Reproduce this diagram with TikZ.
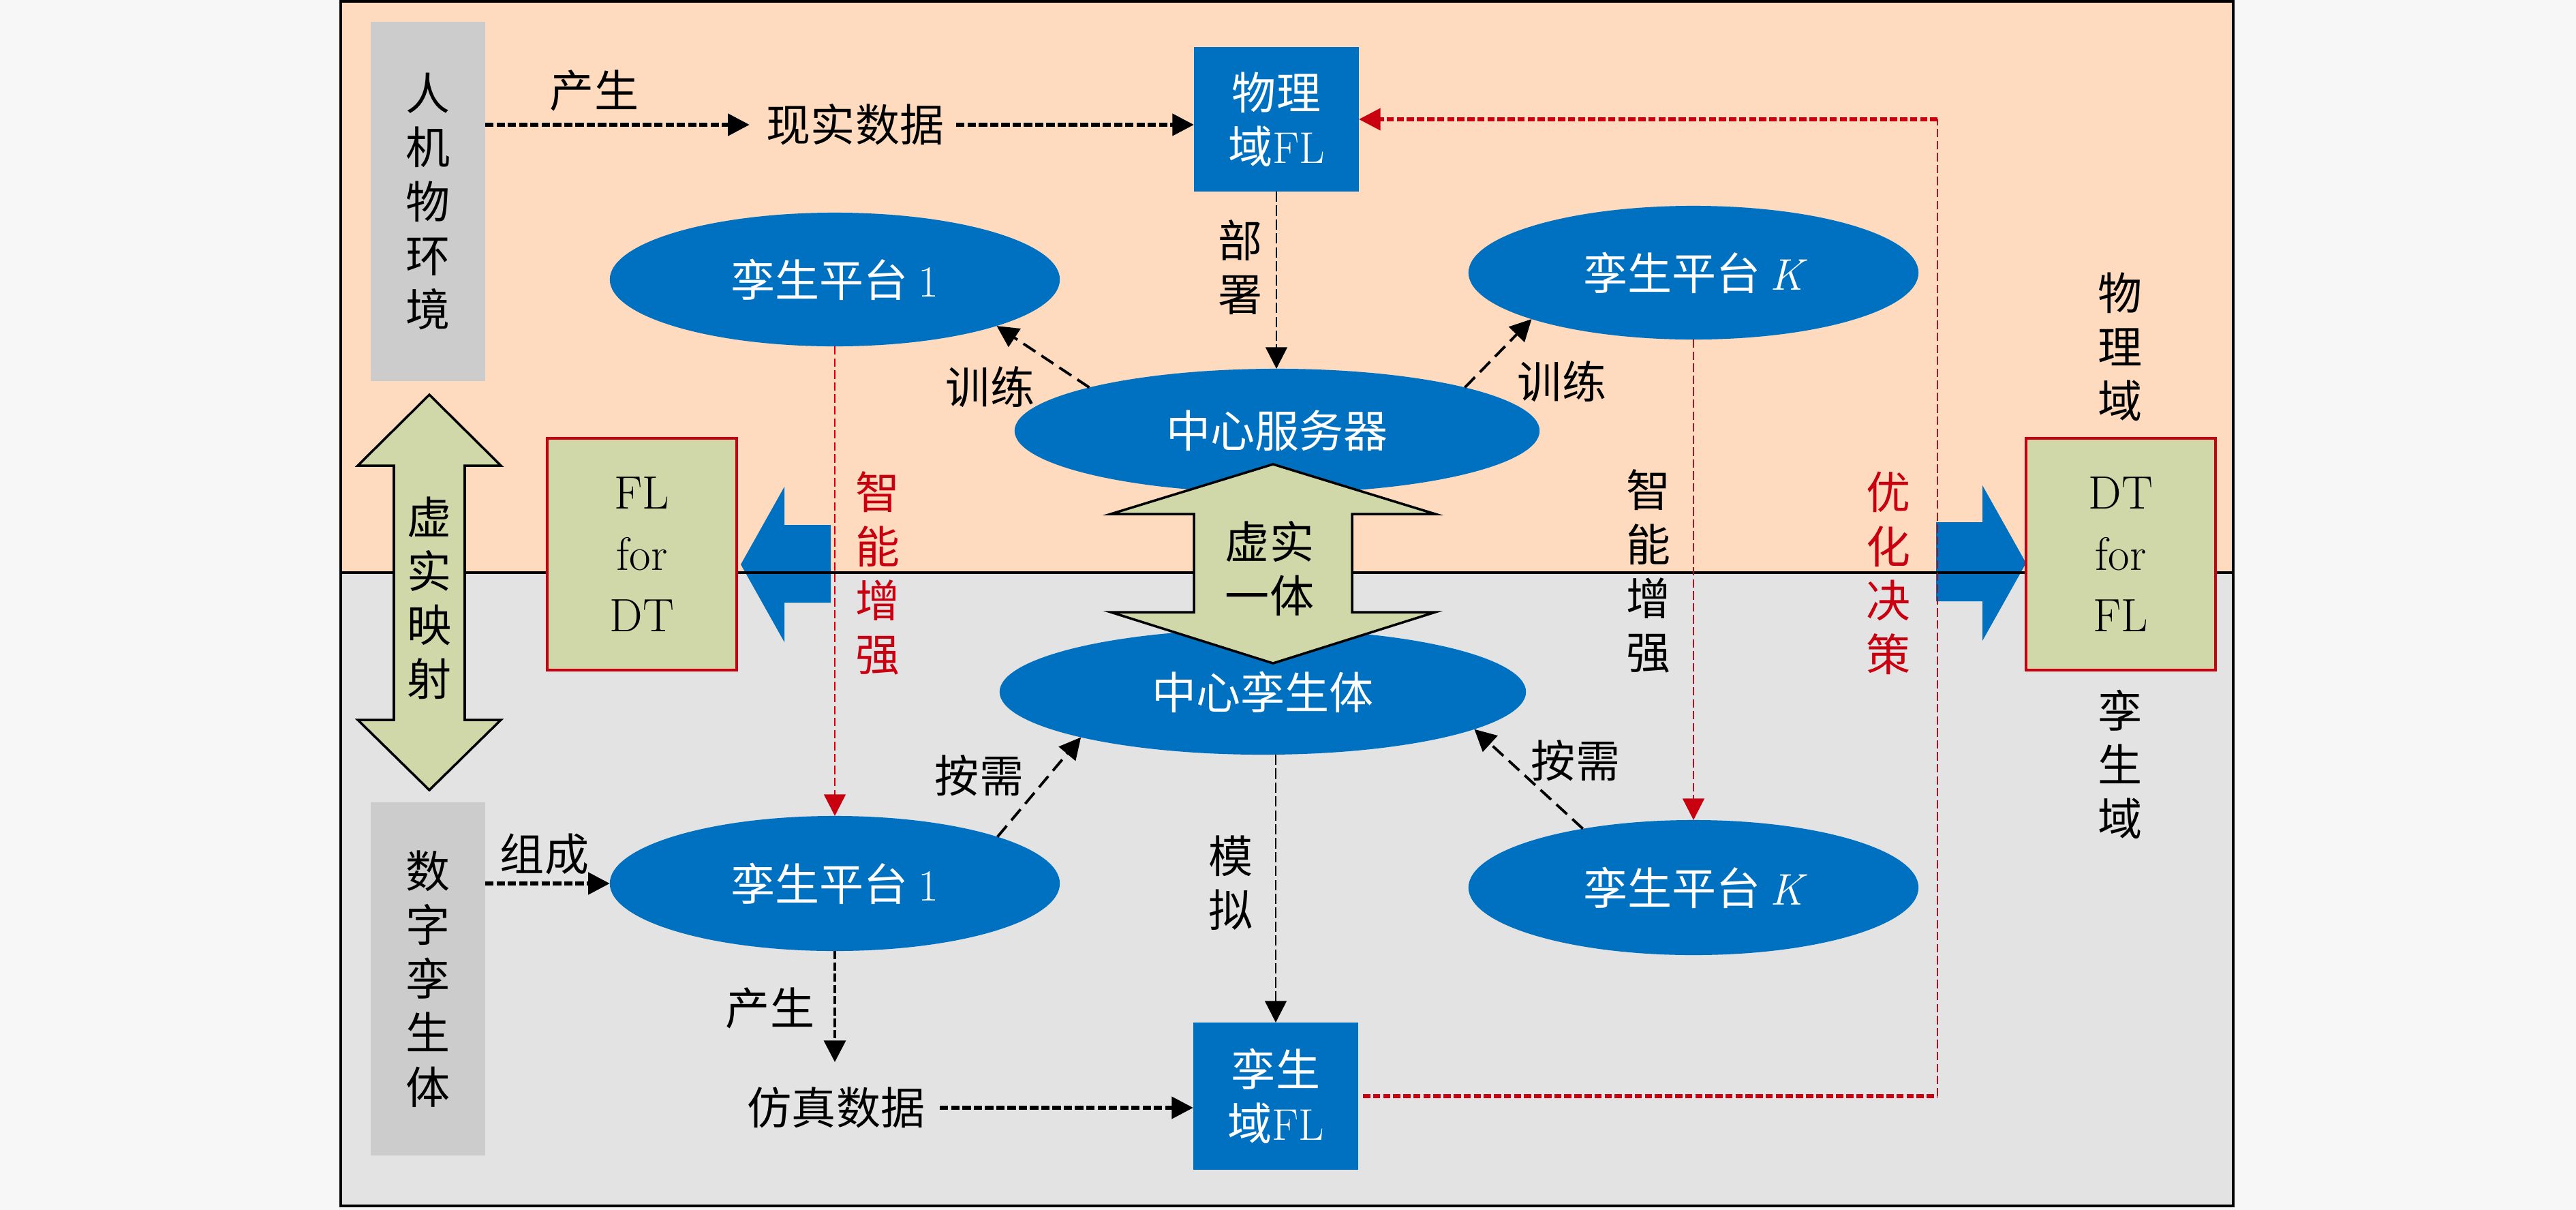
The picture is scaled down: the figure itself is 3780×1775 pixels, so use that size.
\documentclass[tikz,border=0pt]{standalone}
\usepackage{fontspec}
\newfontfamily\cjk{Noto Sans CJK SC}
\usetikzlibrary{arrows.meta,shapes.geometric}
\definecolor{peach}{RGB}{254,219,191}
\definecolor{lgray}{RGB}{227,227,227}
\definecolor{outbg}{RGB}{247,247,247}
\definecolor{boxgray}{RGB}{204,204,204}
\definecolor{myblue}{RGB}{0,112,192}
\definecolor{khaki}{RGB}{208,216,170}
\definecolor{myred}{RGB}{200,0,16}
\begin{document}
\begin{tikzpicture}[x=0.01cm,y=-0.01cm,
  every node/.style={font=\fontsize{18.5}{22.5}\selectfont\cjk, inner sep=0pt, outer sep=0pt},
  ell/.style={ellipse, fill=myblue, text=white, minimum width=6.6cm, minimum height=1.96cm},
  bluebox/.style={rectangle, fill=myblue, text=white, minimum width=2.42cm, minimum height=2.12cm, align=center},
  graybox/.style={rectangle, fill=boxgray, minimum width=1.68cm, align=center},
  khakibox/.style={rectangle, fill=khaki, draw=myred, line width=1pt, minimum width=2.78cm, minimum height=3.4cm, align=center, font=\fontsize{19.5}{25.6}\selectfont\rmfamily},
  vlbl/.style={align=center},
  tip/.style={-{Triangle[length=9pt,width=9pt]}},
  darr/.style={tip, line width=0.8pt, dash pattern=on 4.3pt off 1.5pt},
  dotarr/.style={tip, line width=1.6pt, dash pattern=on 3.5pt off 1.2pt},
  thickdarr/.style={tip, line width=1.1pt, dash pattern=on 6pt off 3pt},
  redthin/.style={draw=myred, line width=0.8pt, dash pattern=on 3.5pt off 1.5pt},
  redthick/.style={draw=myred, line width=1.5pt, dash pattern=on 3pt off 1.2pt},
  redtip/.style={-{Triangle[length=9pt,width=9pt,fill=myred]}},
  dblarrow/.style={fill=khaki, draw=black, line width=1pt, line join=miter}
]
% canvas
\fill[outbg] (0,0) rectangle (3780,1775);
\useasboundingbox (0,0) rectangle (3780,1775);
\fill[peach] (500,2) rectangle (3277,840);
\fill[lgray] (500,840) rectangle (3277,1769);

% blue block arrows
\fill[myblue] (1087,828) -- (1151,714) -- (1151,770) -- (1219,770) -- (1219,884) -- (1151,884) -- (1151,942) -- cycle;
\fill[myblue] (2973,826) -- (2909,712) -- (2909,766) -- (2841,766) -- (2841,882) -- (2909,882) -- (2909,940) -- cycle;

% divider
\draw[line width=0.9pt] (500,840) -- (3277,840);

% gray side boxes
\node[graybox, minimum height=5.27cm] (hum) at (628,295.5) {人\\机\\物\\环\\境};
\node[graybox, minimum height=5.18cm] (dig) at (628,1436) {数\\字\\孪\\生\\体};

% khaki boxes
\node[khakibox] (fl4dt) at (942,813) {FL\\for\\DT};
\node[khakibox] (dt4fl) at (3112,813) {DT\\for\\FL};

% blue boxes
\node[bluebox] (phyfl) at (1873,175) {物理\\域{\rmfamily FL}};
\node[bluebox, minimum height=2.16cm] (twfl) at (1872,1608) {孪生\\域{\rmfamily FL}};

% ellipses
\node[ell] (p1) at (1225,410) {孪生平台 {\rmfamily 1}};
\node[ell] (pK) at (2485,400) {孪生平台 {\rmfamily\itshape K}};
\node[ell, minimum width=7.7cm, minimum height=1.82cm] (srv) at (1874,632) {中心服务器};
\node[ell, minimum width=7.72cm, minimum height=1.84cm] (ctw) at (1853,1015) {\raisebox{-0.1cm}{中心孪生体}};
\node[ell, minimum height=1.98cm] (b1) at (1225,1296) {孪生平台 {\rmfamily 1}};
\node[ell, minimum height=1.98cm] (bK) at (2485,1302) {孪生平台 {\rmfamily\itshape K}};

% double arrows
\filldraw[dblarrow] (1868,681) -- (2106,754) -- (1984,754) -- (1984,898) -- (2106,898) -- (1868,973) -- (1630,898) -- (1752,898) -- (1752,754) -- (1630,754) -- cycle;
\node[vlbl] (xsyt) at (1863,834) {虚实\\一体};
\filldraw[dblarrow] (630,579) -- (735,683) -- (682,683) -- (682,1056) -- (735,1056) -- (630,1159) -- (525,1056) -- (578,1056) -- (578,683) -- (525,683) -- cycle;
\node[vlbl] (xsys) at (630,877) {虚\\实\\映\\射};

% plain texts
\node (real) at (1255,183) {现实数据};
\node (sim) at (1227,1625) {仿真数据};
\node (lb1) at (872,133) {产生};
\node[vlbl] (lb2) at (1820,392) {部\\署};
\node (lb3) at (1453,568) {训练};
\node (lb4) at (2292,560) {训练};
\node[vlbl, text=myred] (lb5) at (1288,841) {智\\能\\增\\强};
\node[vlbl] (lb6) at (2419,838) {智\\能\\增\\强};
\node[vlbl, text=myred] (lb7) at (2771,841) {优\\化\\决\\策};
\node[vlbl] (lb8) at (3111,509) {物\\理\\域};
\node[vlbl] (lb9) at (3111,1121) {孪\\生\\域};
\node (lb10) at (1437,1138) {按需};
\node (lb11) at (2312,1116) {按需};
\node (lb12) at (799,1253) {组成};
\node (lb13) at (1130,1479) {产生};
\node[vlbl] (lb14) at (1806,1295) {模\\拟};

% connectors
\draw[dotarr] (hum.east |- real.west) -- ([xshift=-0.25cm]real.west);
\draw[dotarr] ([xshift=0.18cm]real.east) -- (phyfl.west |- real.east);
\draw[darr] (phyfl.south) -- (phyfl.south |- srv.north);
\draw[thickdarr] (srv.167) -- (p1.344);
\draw[thickdarr] (srv.13) -- (pK.196);
\draw[redthin, redtip] (p1.south) -- (b1.north);
\draw[redthin, redtip] (pK.south) -- (bK.north);
\draw[dotarr] (dig.east |- b1.west) -- (b1.west);
\draw[thickdarr] (b1.16) -- (ctw.194);
\draw[thickdarr] (bK.152) -- (ctw.350);
\draw[darr] (twfl.north |- ctw.south) -- (twfl.north);
\coordinate (simtop) at (1225,1558);
\draw[dotarr, line width=1.3pt] (b1.south) -- (simtop);
\draw[dotarr] ([xshift=0.22cm]sim.east) -- (twfl.west |- sim.east);
\coordinate (rc) at (2843,0);
\draw[redthick] ([xshift=0.07cm]twfl.east) -- (twfl.east -| rc);
\draw[redthin] (twfl.east -| rc) -- (phyfl.east -| rc);
\draw[redthick, redtip] (phyfl.east -| rc) -- (phyfl.east);

% frame
\draw[line width=0.9pt] (500,2) rectangle (3277,1769);
\end{tikzpicture}
\end{document}
